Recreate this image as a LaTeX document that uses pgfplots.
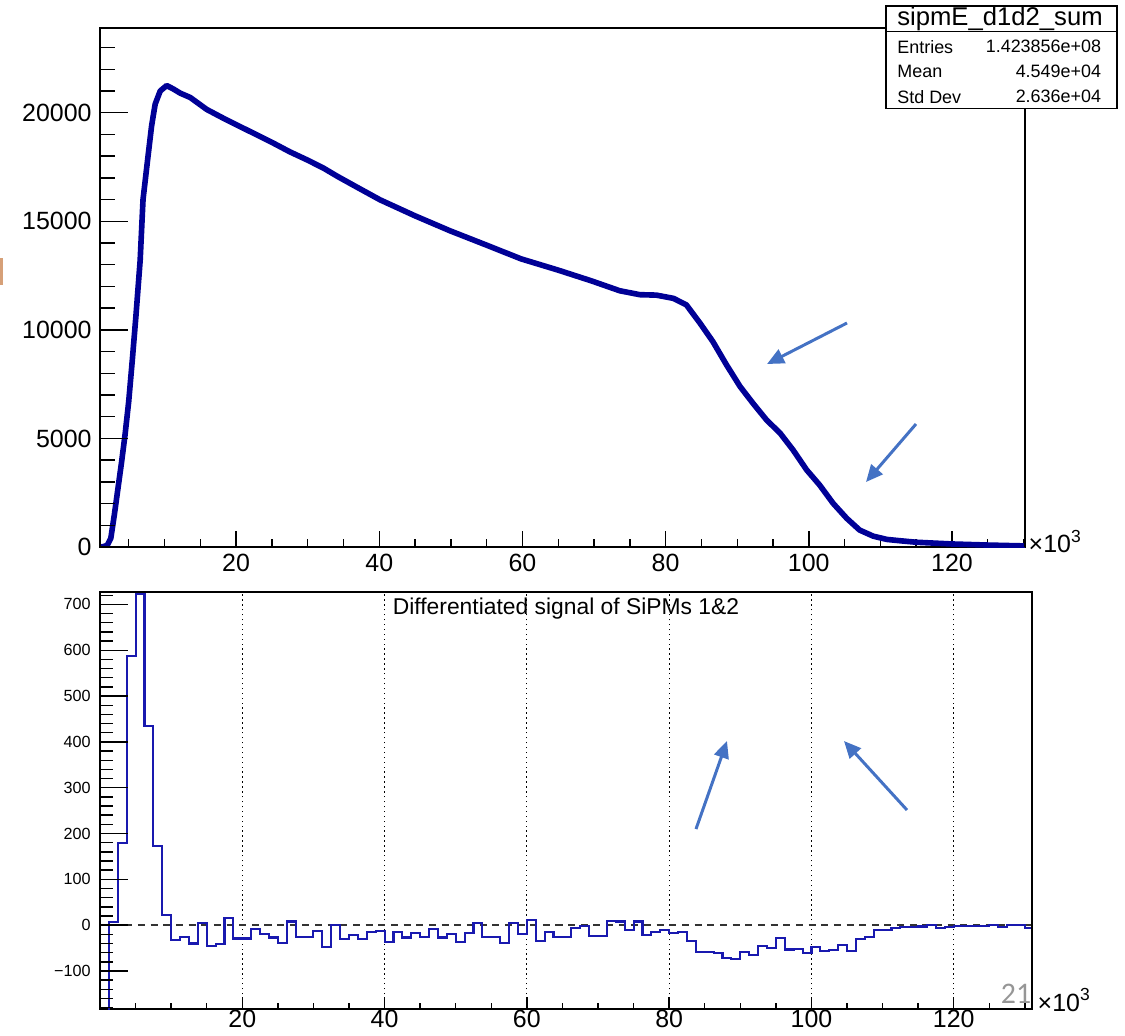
\documentclass[border=0pt]{standalone}
\usepackage{fontspec}
\setmainfont{Liberation Sans}
\newfontfamily\slidefont{Carlito}
\usepackage{pgfplots}
\pgfplotsset{compat=1.18}
\usetikzlibrary{arrows.meta}
\definecolor{rootblue}{RGB}{0,0,150}
\definecolor{diffblue}{RGB}{25,25,175}
\definecolor{annblue}{RGB}{68,114,196}
\definecolor{slidegray}{RGB}{150,150,150}
\definecolor{markorange}{RGB}{214,160,120}

\pgfplotsset{rootax/.style={scale only axis, tick align=inside,
    axis line style={line width=0.45pt},
    every tick/.style={black, line width=0.4pt},
    /pgf/number format/assume math mode=true, /pgf/number format/1000 sep={},
    scaled ticks=false}}

% top histogram (x in 10^3)
\pgfplotstableread{
x y
0.99 0
1.5 20
2.0 80
2.5 400
3.0 1500
3.5 2700
4.0 3900
4.5 5200
5.0 6700
5.5 8600
6.0 10600
6.6 13200
7.0 16000
7.7 18000
8.2 19400
8.7 20400
9.4 21000
10.3 21250
11.2 21100
12.2 20900
13.6 20700
15.9 20150
18.2 19750
20.5 19370
22.9 18980
25.2 18600
27.5 18200
29.9 17830
32.2 17450
34.2 17060
37.0 16550
40.1 15990
45.0 15250
49.9 14560
55.0 13900
59.8 13270
65.0 12750
69.6 12260
73.6 11800
76.4 11620
78.7 11600
81.1 11450
82.9 11150
84.8 10310
86.6 9460
88.5 8390
90.4 7390
92.2 6620
94.1 5850
96.0 5240
97.8 4470
99.7 3550
101.5 2860
103.4 2010
105.3 1320
107.1 780
109.0 500
110.9 350
112.7 290
115 220
120 140
125 90
130.2 50
}\sumtab

% differentiated signal, bins of 1.25 (left edges)
\pgfplotstableread{
x y
0 -250
1.25 7
2.5 180
3.75 588
5 722
6.25 435
7.5 173
8.75 22
10 -33
11.25 -26
12.5 -40
13.75 4
15 -45
16.25 -42
17.5 15
18.75 -29
20 -29
21.25 -9
22.5 -20
23.75 -27
25 -38
26.25 8
27.5 -26
28.75 -26
30 -13
31.25 -47
32.5 0
33.75 -31
35 -21
36.25 -31
37.5 -15
38.75 -12
40 -36
41.25 -15
42.5 -27
43.75 -18
45 -25
46.25 -9
47.5 -27
48.75 -20
50 -36
51.25 -18
52.5 4
53.75 -26
55 -26
56.25 -39
57.5 4
58.75 -20
60 12
61.25 -34
62.5 -14
63.75 -26
65 -26
66.25 -6
67.5 -1
68.75 -23
70 -23
71.25 10
72.5 8
73.75 -11
75 8
76.25 -22
77.5 -14
78.75 -11
80 -17
81.25 -14
82.5 -34
83.75 -58
85 -58
86.25 -61
87.5 -71
88.75 -74
90 -59
91.25 -66
92.5 -46
93.75 -50
95 -28
96.25 -53
97.5 -52
98.75 -61
100 -47
101.25 -56
102.5 -54
103.75 -43
105 -56
106.25 -31
107.5 -25
108.75 -10
110 -11
111.25 -7
112.5 -4
113.75 -4
115 -3
116.25 1
117.5 -6
118.75 -4
120 -2
121.25 -2
122.5 -2
123.75 -2
125 1
126.25 -4
127.5 1
128.75 0
130 -6
131.25 -6
}\difftab

\begin{document}
\begin{tikzpicture}
\useasboundingbox (0,0) rectangle (11.25,-10.35);

% ---------- top panel ----------
\begin{axis}[rootax, at={(1.00cm,-5.47cm)}, anchor=south west,
  width=9.25cm, height=5.19cm,
  xmin=0.99, xmax=130.2, ymin=0, ymax=23900,
  xtick={20,40,...,120}, minor xtick={5,10,...,130}, xtick pos=bottom,
  ytick=\empty,
  major tick length=0.16cm, minor tick length=0.08cm,
  xticklabel style={font=\fontsize{7.1}{8}\selectfont, yshift=0.05cm}]
\addplot[rootblue, line width=1.6pt, line join=round] table {\sumtab};
\end{axis}
\begin{axis}[rootax, at={(1.00cm,-5.47cm)}, anchor=south west,
  width=9.25cm, height=5.19cm,
  xmin=0.99, xmax=130.2, ymin=0, ymax=23900,
  hide x axis,
  ytick={0,5000,...,20000}, minor ytick={1000,2000,...,23000}, ytick pos=left,
  major tick length=0.28cm, minor tick length=0.15cm,
  yticklabel style={font=\fontsize{7.1}{8}\selectfont, xshift=0.04cm}]
\end{axis}
\node[anchor=west, inner sep=0pt, font=\fontsize{7.1}{8}\selectfont] at (10.28,-5.415) {×10\textsuperscript{3}};

% ---------- bottom panel ----------
\begin{axis}[rootax, at={(1.00cm,-10.09cm)}, anchor=south west,
  width=9.32cm, height=4.17cm,
  xmin=0, xmax=131, ymin=-183, ymax=727,
  xtick={20,40,...,120}, minor xtick={5,10,...,130}, xtick pos=bottom,
  ytick=\empty,
  xmajorgrids, major x grid style={black, densely dotted, line width=0.35pt},
  major tick length=0.12cm, minor tick length=0.06cm,
  xticklabel style={font=\fontsize{7.1}{8}\selectfont, yshift=0.11cm}]
\draw[black!80, dash pattern=on 2pt off 1.6pt, line width=0.45pt] (axis cs:0,0) -- (axis cs:131,0);
\addplot[diffblue, line width=0.6pt, const plot] table {\difftab};
\node[anchor=north, inner sep=0pt, font=\fontsize{6.5}{7}\selectfont]
  at (rel axis cs:0.5,1) [yshift=-0.05cm] {Differentiated signal of SiPMs 1\&2};
\end{axis}
\begin{axis}[rootax, at={(1.00cm,-10.09cm)}, anchor=south west,
  width=9.32cm, height=4.17cm,
  xmin=0, xmax=131, ymin=-183, ymax=727,
  hide x axis,
  ytick={-100,0,...,700}, yticklabels={−100,0,100,200,300,400,500,600,700},
  minor ytick={-180,-160,...,720}, ytick pos=left,
  major tick length=0.28cm, minor tick length=0.13cm,
  yticklabel style={font=\fontsize{4.6}{5}\selectfont, xshift=0.03cm}]
\end{axis}
\node[anchor=west, inner sep=0pt, font=\fontsize{7.1}{8}\selectfont] at (10.37,-10.00) {×10\textsuperscript{3}};

% ---------- stats box ----------
\draw[line width=0.35pt, fill=white] (8.86,-0.06) rectangle (11.17,-1.083);
\draw[line width=0.35pt] (8.86,-0.317) -- (11.17,-0.317);
\node[inner sep=0pt, font=\fontsize{7.3}{8}\selectfont] at (10.0,-0.19) {sipmE\_d1d2\_sum};
\begin{scope}[font=\fontsize{5.1}{6}\selectfont, inner sep=0pt]
\node[anchor=west] at (8.967,-0.467) {Entries};
\node[anchor=east] at (11.017,-0.467) {1.423856e+08};
\node[anchor=west] at (8.967,-0.717) {Mean};
\node[anchor=east] at (11.017,-0.717) {4.549e+04};
\node[anchor=west] at (8.967,-0.967) {Std Dev};
\node[anchor=east] at (11.017,-0.967) {2.636e+04};
\end{scope}

% ---------- slide annotations ----------
\begin{scope}[annblue, line width=0.85pt, -{Triangle[length=0.17cm, width=0.15cm]}]
\draw (8.47,-3.23) -- (7.67,-3.64);
\draw (9.16,-4.24) -- (8.66,-4.82);
\draw (6.96,-8.29) -- (7.27,-7.41);
\draw (9.07,-8.10) -- (8.44,-7.41);
\end{scope}
\node[text=slidegray, font=\slidefont\fontsize{8.5}{9}\selectfont, inner sep=0pt] at (10.16,-9.94) {21};
\fill[markorange] (0,-2.58) rectangle (0.03,-2.85);
\end{tikzpicture}
\end{document}
